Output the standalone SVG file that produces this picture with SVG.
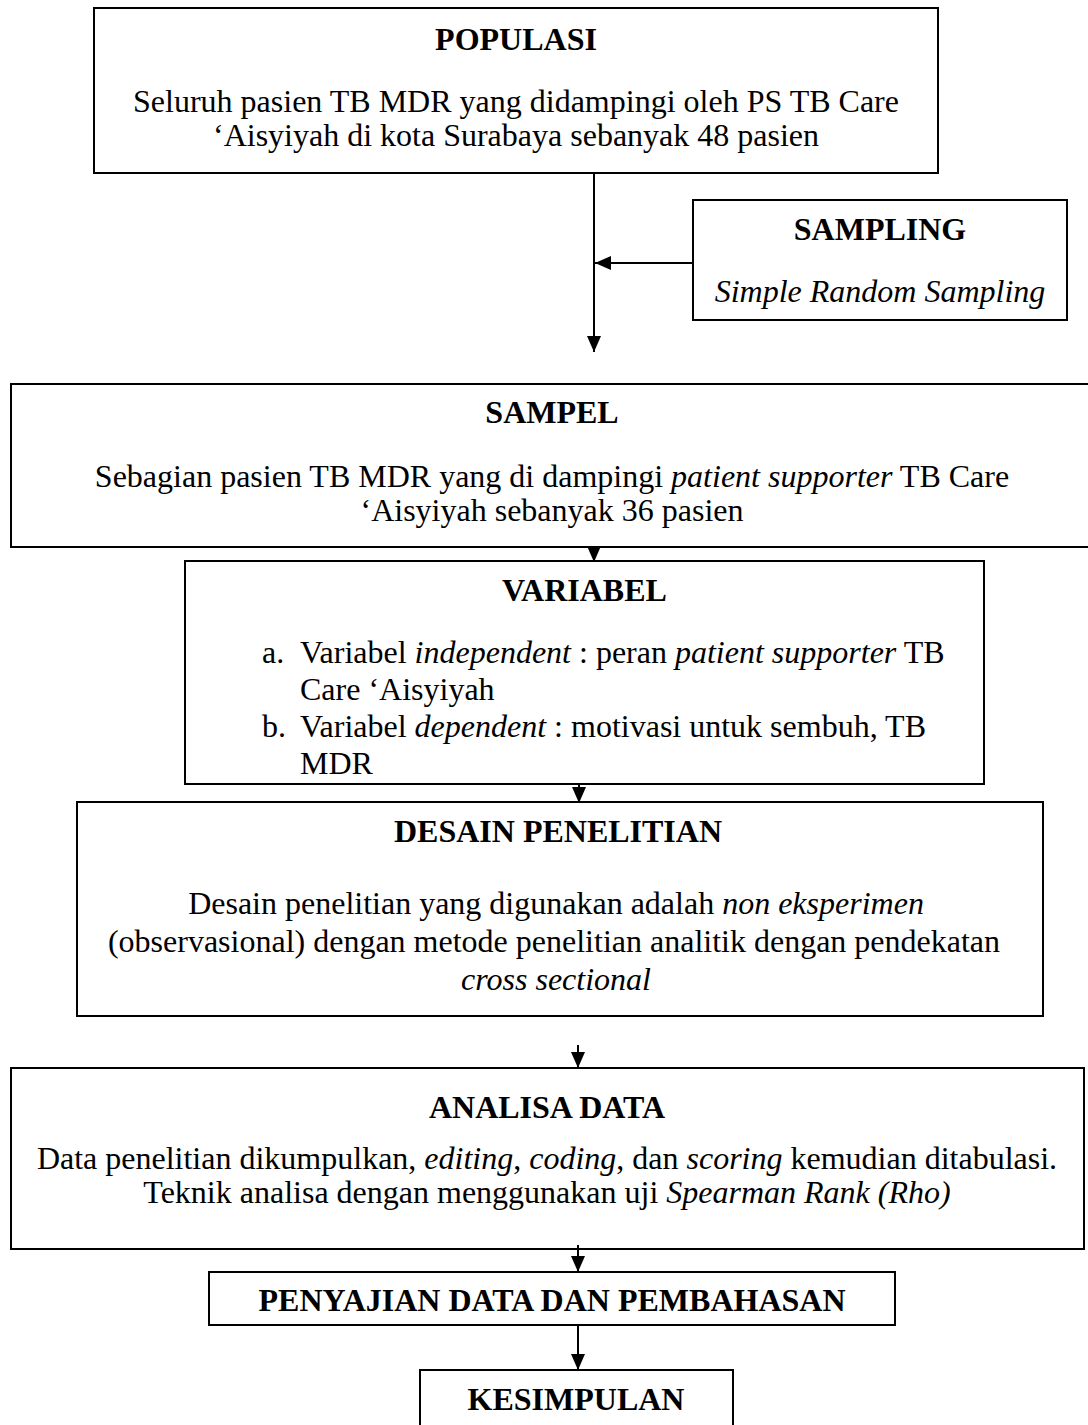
<svg xmlns="http://www.w3.org/2000/svg" width="1088" height="1425" viewBox="0 0 1088 1425">
<defs>
<style>
.box{fill:#fff;stroke:#000;stroke-width:2}
.t{font-family:"Liberation Serif","Times New Roman",serif;font-size:32px;fill:#000}
.b{font-weight:bold}
.c{text-anchor:middle}
.i{font-style:italic}
.con{fill:none;stroke:#000;stroke-width:2}
</style>
<marker id="ah" viewBox="0 0 16 14" refX="16" refY="7" markerWidth="16" markerHeight="14" markerUnits="userSpaceOnUse" orient="auto">
<path d="M0,0 L16,7 L0,14 z" fill="#000"/>
</marker>
</defs>
<rect width="1088" height="1425" fill="#fff"/>
<g id="populasi">
<rect class="box" x="94" y="8" width="844" height="165"/>
<text class="t b c" x="516" y="50">POPULASI</text>
<text class="t c" x="516" y="112">Seluruh pasien TB MDR yang didampingi oleh PS TB Care</text>
<text class="t c" x="516" y="146">‘Aisyiyah di kota Surabaya sebanyak 48 pasien</text>
</g>
<g id="sampling">
<rect class="box" x="693" y="200" width="374" height="120"/>
<text class="t b c" x="880" y="240">SAMPLING</text>
<text class="t i c" x="880" y="302">Simple Random Sampling</text>
</g>
<g id="sampel">
<rect class="box" x="11" y="384" width="1085" height="163"/>
<text class="t b c" x="552" y="423">SAMPEL</text>
<text class="t c" x="552" y="487">Sebagian pasien TB MDR yang di dampingi <tspan class="i">patient supporter</tspan> TB Care</text>
<text class="t c" x="552" y="521">‘Aisyiyah sebanyak 36 pasien</text>
</g>
<g id="variabel">
<rect class="box" x="185" y="561" width="799" height="223"/>
<text class="t b c" x="584.5" y="601">VARIABEL</text>
<text class="t" x="262" y="663">a.</text>
<text class="t" x="300" y="663">Variabel <tspan class="i">independent</tspan> : peran <tspan class="i">patient supporter</tspan> TB</text>
<text class="t" x="300" y="700">Care ‘Aisyiyah</text>
<text class="t" x="262" y="737">b.</text>
<text class="t" x="300" y="737">Variabel <tspan class="i">dependent</tspan> : motivasi untuk sembuh, TB</text>
<text class="t" x="300" y="774">MDR</text>
</g>
<g id="desain">
<rect class="box" x="77" y="802" width="966" height="214"/>
<text class="t b c" x="558" y="842">DESAIN PENELITIAN</text>
<text class="t c" x="556" y="914">Desain penelitian yang digunakan adalah <tspan class="i">non eksperimen</tspan></text>
<text class="t c" x="554" y="952">(observasional) dengan metode penelitian analitik dengan pendekatan</text>
<text class="t i c" x="556" y="990">cross sectional</text>
</g>
<g id="analisa">
<rect class="box" x="11" y="1068" width="1073" height="181"/>
<text class="t b c" x="547" y="1118">ANALISA DATA</text>
<text class="t c" x="547" y="1169">Data penelitian dikumpulkan, <tspan class="i">editing</tspan>, <tspan class="i">coding</tspan>, dan <tspan class="i">scoring</tspan> kemudian ditabulasi.</text>
<text class="t c" x="547" y="1203">Teknik analisa dengan menggunakan uji <tspan class="i">Spearman Rank (Rho)</tspan></text>
</g>
<g id="penyajian">
<rect class="box" x="209" y="1272" width="686" height="53"/>
<text class="t b c" x="552" y="1311">PENYAJIAN DATA DAN PEMBAHASAN</text>
</g>
<g id="kesimpulan">
<rect class="box" x="420" y="1370" width="313" height="70"/>
<text class="t b c" x="576" y="1410">KESIMPULAN</text>
</g>
<g id="connectors">
<path class="con" d="M594,173 V352" marker-end="url(#ah)"/>
<path class="con" d="M693,263 H595" marker-end="url(#ah)"/>
<path class="con" d="M594,547 V562" marker-end="url(#ah)"/>
<path class="con" d="M579,784 V803" marker-end="url(#ah)"/>
<path class="con" d="M578,1045 V1068" marker-end="url(#ah)"/>
<path class="con" d="M578,1245 V1272" marker-end="url(#ah)"/>
<path class="con" d="M578,1325 V1370" marker-end="url(#ah)"/>
</g>
</svg>
